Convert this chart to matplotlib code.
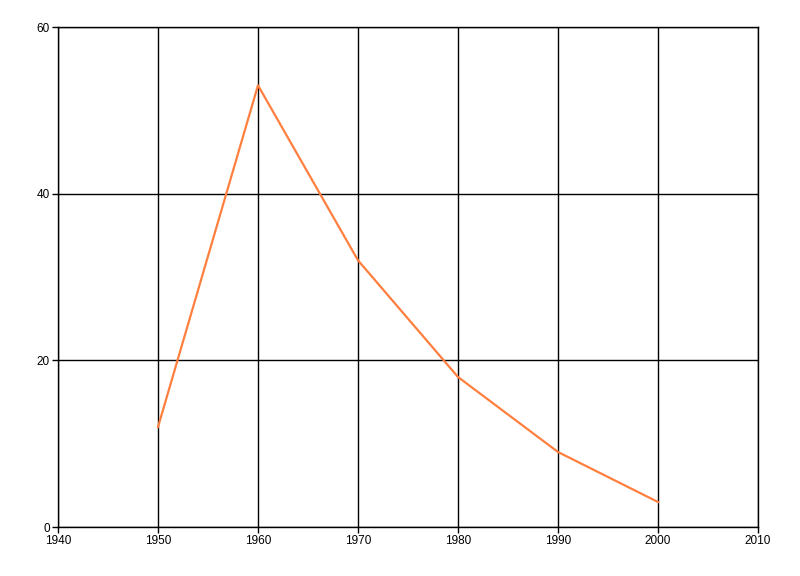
import matplotlib
matplotlib.use('Agg')
import matplotlib.pyplot as plt

years = [1950, 1960, 1970, 1980, 1990, 2000]
values = [12, 53, 32, 18, 9, 3]
x_ticks = [1940, 1950, 1960, 1970, 1980, 1990, 2000, 2010]
y_ticks = [0, 20, 40, 60]

plt.rcParams['font.family'] = ['Liberation Sans', 'DejaVu Sans']

fig = plt.figure(figsize=(8, 5.76), dpi=100)
ax = fig.add_axes([58 / 800, 49 / 576, 700 / 800, 500 / 576])

ax.plot(years, values, color='#ff7f3f', linewidth=1.6, zorder=3)

ax.set_xlim(1940, 2010)
ax.set_ylim(0, 60)
ax.set_xticks(x_ticks)
ax.set_yticks(y_ticks)
ax.grid(True, color='black', linewidth=1)
for s in ax.spines.values():
    s.set_color('black')
    s.set_linewidth(1)
ax.tick_params(direction='out', length=4, width=1, labelsize=8.5, pad=2)

fig.savefig('out.png', dpi=100)
